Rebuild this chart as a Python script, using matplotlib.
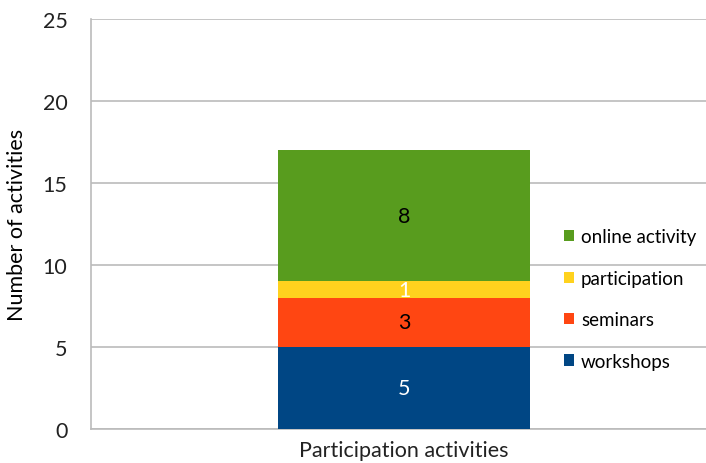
import matplotlib.pyplot as plt
import numpy as np

plt.rcParams['font.family'] = ['Lato', 'DejaVu Sans']

category = ['Participation activities']
series = ['workshops', 'seminars', 'participation', 'online activity']
values = [5, 3, 1, 8]
colors = ['#004684', '#FF4612', '#FFD21E', '#589C1E']
label_colors = ['white', 'black', 'white', 'black']

fs = 15.5
fig = plt.figure(figsize=(7.06, 4.64), dpi=100)
ax = fig.add_axes([91 / 706, 34 / 464, 615 / 706, 410 / 464])

bottom = 0
handles = []
for name, v, c, lc in zip(series, values, colors, label_colors):
    b = ax.bar(0, v, width=0.41, bottom=bottom, color=c, label=name, zorder=3)
    handles.append(b)
    ax.text(0, bottom + v / 2, str(v), ha='center', va='center',
            color=lc, fontsize=fs, zorder=4)
    bottom += v

ax.set_xlim(-0.509, 0.491)
ax.set_ylim(0, 25)
ax.set_yticks(np.arange(0, 26, 5))
ax.set_xticks([0])
ax.set_xticklabels(category, fontsize=fs)
ax.tick_params(axis='both', length=0, labelsize=fs, colors='#222222')
ax.tick_params(axis='y', pad=17)
ax.tick_params(axis='x', pad=8)
ax.set_ylabel('Number of activities', fontsize=fs, labelpad=11)
ax.grid(axis='y', color='#BBBBBB', linewidth=1.2, zorder=0)
for s in ['top', 'right']:
    ax.spines[s].set_visible(False)
for s in ['left', 'bottom']:
    ax.spines[s].set_color('#BBBBBB')
    ax.spines[s].set_linewidth(1.2)

ax.legend(handles[::-1], series[::-1], loc='center left',
          bbox_to_anchor=(564 / 706, 1 - 300 / 464), bbox_transform=fig.transFigure,
          frameon=False, fontsize=13.5, handlelength=0.55, handleheight=0.55,
          handletextpad=0.35, labelspacing=1.3, borderpad=0, borderaxespad=0)

fig.savefig('out.png', dpi=100)
